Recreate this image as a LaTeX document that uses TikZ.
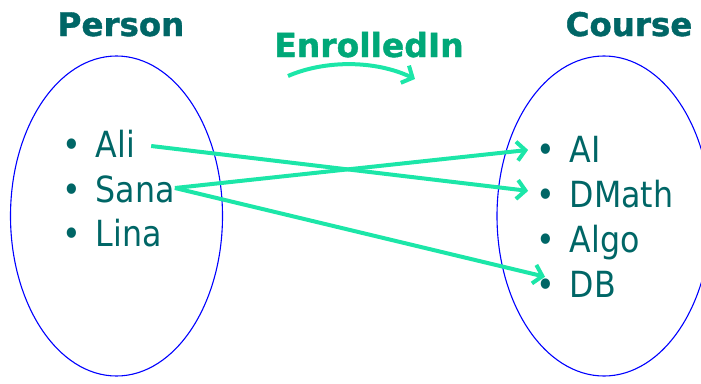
\documentclass[tikz,border=0pt]{standalone}
\usepackage{fontspec}
\setmainfont{DejaVu Sans}[FakeStretch=0.88]
\newfontfamily\headfont{DejaVu Sans}[BoldFeatures={FakeBold=1.2}]
\usetikzlibrary{arrows.meta}
\definecolor{setteal}{RGB}{0,102,102}
\definecolor{relgreen}{RGB}{0,168,120}
\definecolor{linkmint}{RGB}{28,230,168}
\definecolor{setblue}{RGB}{0,0,255}
\tikzset{
  settitle/.style={anchor=base, inner sep=0pt, text=setteal,
    font=\headfont\bfseries\fontsize{32.5}{36}\selectfont},
  reltitle/.style={anchor=base, inner sep=0pt, text=relgreen,
    font=\headfont\bfseries\fontsize{33}{36}\selectfont},
  member/.style={anchor=base west, inner sep=0pt, text=setteal,
    text height=28pt, text depth=0pt,
    font=\fontsize{36}{40}\selectfont},
  setring/.style={draw=setblue, line width=1.1pt},
  link/.style={draw=linkmint, line width=4pt,
    -{Straight Barb[length=8.5pt,width=19pt]}},
}
\newcommand{\member}[1]{\makebox[0pt][c]{\textbullet}\hspace{23.5pt}#1}
\begin{document}
\begin{tikzpicture}[x=1pt,y=-1pt]
  \useasboundingbox (0,0) rectangle (701,383);

  % the two sets
  \draw[setring] (116.5,216) ellipse [x radius=106pt, y radius=160pt];
  \draw[setring] (604,216) ellipse [x radius=107pt, y radius=160pt];

  % headings
  \node[settitle] (person) at (121,36) {Person};
  \node[settitle] (course) at (629,36) {Course};
  \node[reltitle] (rel) at (369,57) {EnrolledIn};

  % relation arrow under the heading
  \coordinate (relA) at (288,76);
  \coordinate (relB) at (415,79);
  \draw[link] (relA) .. controls (325,60) and (375,60) .. (relB);

  % members of Person
  \node[member] (ali)  at (72,157) {\member{Ali}};
  \node[member] (sana) at (72,202) {\member{Sana}};
  \node[member] (lina) at (72,246) {\member{Lina}};

  % members of Course
  \node[member] (ai)    at (546,162) {\member{AI}};
  \node[member] (dmath) at (546,207) {\member{DMath}};
  \node[member] (algo)  at (546,252) {\member{Algo}};
  \node[member] (db)    at (546,297) {\member{DB}};

  % enrolments
  \draw[link, shorten >=18pt] ([xshift=16pt,yshift=-3pt]ali.east) -- (dmath.west);
  \draw[link, shorten >=18pt] (sana.east) -- (ai.west);
  \draw[link, shorten >=1pt] (sana.east) -- ([yshift=6pt]db.west);
\end{tikzpicture}
\end{document}
